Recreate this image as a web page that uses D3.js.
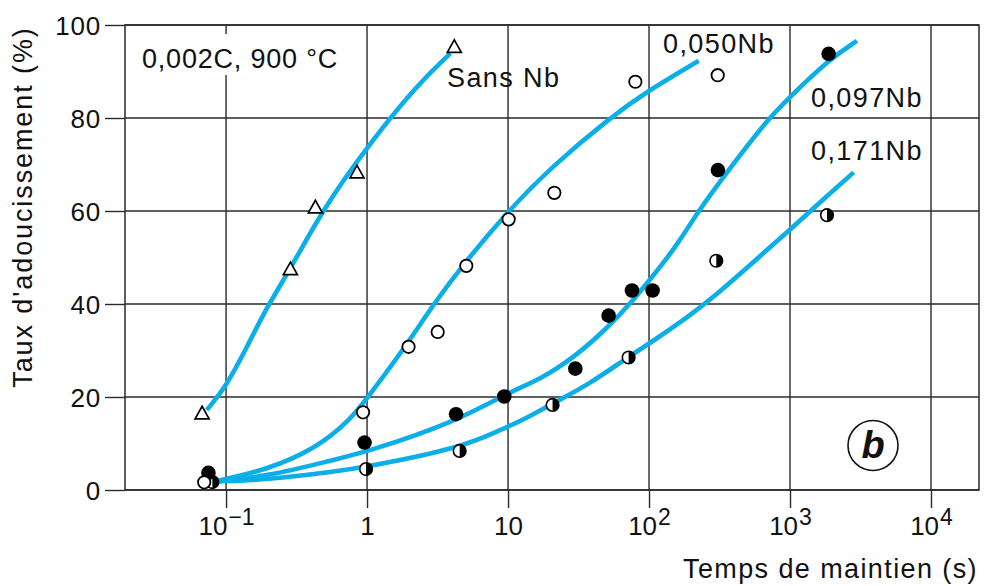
<!DOCTYPE html>
<html>
<head>
<meta charset="utf-8">
<script src="https://cdn.jsdelivr.net/npm/d3@7"></script>
<style>
  body { margin: 0; background: #fff; }
  svg { display: block; }
  text { font-family: "Liberation Sans", Arial, sans-serif; fill: #111; }
</style>
</head>
<body>
<svg id="chart" width="989" height="586"></svg>
<script>
// ---------- data (time in s, softening in %) ----------
const xTickValues = [0.1, 1, 10, 100, 1000, 10000];
const xTickBase   = ["10", "1", "10", "10", "10", "10"];
const xTickExp    = ["\u22121", "", "", "2", "3", "4"];
const yTickValues = [0, 20, 40, 60, 80, 100];

const seriesNames = ["Sans Nb", "0,050Nb", "0,097Nb", "0,171Nb"];

// measured points
const pointsSansNb = [[0.0676,16.5],[0.286,47.5],[0.43,60.8],[0.849,68.3],[4.16,95.3]];
const points050Nb  = [[0.070,1.65],[0.937,16.7],[1.97,30.8],[3.17,34.0],[5.06,48.2],[10.1,58.2],[21.3,63.9],[80,87.8],[307,89.2]];
const points097Nb  = [[0.075,3.7],[0.96,10.2],[4.28,16.3],[9.4,20.1],[30,26.1],[51.7,37.5],[75.7,42.9],[106,42.9],[308,68.8],[1879,93.8]];
const points171Nb  = [[0.080,1.7],[0.984,4.5],[4.54,8.4],[20.7,18.3],[71.7,28.5],[300,49.3],[1829,59.1]];

// fitted curves
const curveSansNb = [[0.073,17.2],[0.1,22.2],[0.141,30.8],[0.195,39.4],[0.286,47.5],[0.48,60.1],[1,73.8],[2.26,87.1],[3.9,93.9]];
const curve050Nb  = [[0.082,1.8],[0.195,4.3],[0.44,9.0],[0.76,15.1],[1,19.7],[1.87,30.8],[2.97,40],[4.72,48.2],[10,60],[20,69.3],[53,80.1],[100,86],[225,92.3]];
const curve097Nb  = [[0.082,1.8],[0.195,2.9],[0.58,6.5],[1,8.2],[4.28,14.7],[10.1,21.0],[17,23.8],[30,28.7],[51.7,35.1],[77.8,40.9],[101,45.2],[150,51.6],[225,60.1],[338,67.4],[687,79.6],[1005,84.6],[1879,92.5],[2985,96.6]];
const curve171Nb  = [[0.082,1.8],[0.195,2.2],[0.58,3.9],[1,5.0],[4.54,9.0],[8.8,12.9],[12.9,15.1],[20.7,18.6],[38.4,22.9],[71.6,28.7],[101,31.5],[196,37.6],[272,40.9],[522,48.4],[993,55.9],[1829,63.2],[2825,68.3]];

const annotation = "0,002C, 900 \u00B0C";
const xTitle = "Temps de maintien (s)";
const yTitle = "Taux d'adoucissement (%)";
const panelLetter = "b";

// ---------- layout ----------
const L = 125, R = 979, T = 25, B = 490;
const curveColor = "#0aaee8";
const gridColor = "#2a2a2a";

const svg = d3.select("#chart");
svg.append("rect").attr("width", 989).attr("height", 586).attr("fill", "#fff");

const x = d3.scaleLog().domain([0.0192, 21900]).range([L, R]);
const y = d3.scaleLinear().domain([0, 100]).range([B, T]);

// grid lines
const grid = svg.append("g");
grid.selectAll("line.v").data(xTickValues).join("line")
  .attr("x1", d => x(d)).attr("x2", d => x(d))
  .attr("y1", T).attr("y2", B)
  .attr("stroke", gridColor).attr("stroke-width", 1.4);
grid.selectAll("line.h").data(yTickValues).join("line")
  .attr("x1", L).attr("x2", R)
  .attr("y1", d => y(d)).attr("y2", d => y(d))
  .attr("stroke", gridColor).attr("stroke-width", 1.4);

// frame
svg.append("rect").attr("x", L).attr("y", T).attr("width", R - L).attr("height", B - T)
  .attr("fill", "none").attr("stroke", gridColor).attr("stroke-width", 1.5);

// y axis
const yAxis = svg.append("g").attr("transform", `translate(${L},0)`)
  .call(d3.axisLeft(y).tickValues(yTickValues).tickSize(20).tickPadding(4).tickFormat(d3.format("d")));
yAxis.select(".domain").remove();
yAxis.selectAll(".tick line").attr("stroke", gridColor).attr("stroke-width", 1.4);
yAxis.selectAll(".tick text").attr("font-size", 26).attr("letter-spacing", 0.8)
  .attr("font-family", "Liberation Sans, Arial, sans-serif").attr("fill", "#111").attr("dy", "0.36em");

// x axis
const xAxis = svg.append("g").attr("transform", `translate(0,${B})`)
  .call(d3.axisBottom(x).tickValues(xTickValues).tickSize(18).tickFormat(""));
xAxis.select(".domain").remove();
xAxis.selectAll(".tick line").attr("stroke", gridColor).attr("stroke-width", 1.4);
xAxis.selectAll(".tick text").remove();
const xl = xAxis.selectAll(".tick").append("text")
  .attr("y", 45).attr("text-anchor", "middle")
  .attr("font-size", 26).attr("fill", "#111");
xl.each(function(d, i) {
  const t = d3.select(this);
  t.append("tspan").text(xTickBase[i]);
  if (xTickExp[i]) t.append("tspan").attr("font-size", 23).attr("dy", -10).attr("dx", 1).text(xTickExp[i]);
});

// annotation with white background
svg.append("rect").attr("x", 138).attr("y", 34).attr("width", 204).attr("height", 41).attr("fill", "#fff");
svg.append("text").attr("x", 142).attr("y", 68).attr("font-size", 27).attr("letter-spacing", 0.8).text(annotation);

// curve labels
const labelPos = [[447, 87], [663, 53], [811, 107], [811, 160]];
svg.selectAll("text.lab").data(seriesNames).join("text")
  .attr("class", "lab")
  .attr("x", (d, i) => labelPos[i][0]).attr("y", (d, i) => labelPos[i][1])
  .attr("font-size", 27).attr("letter-spacing", 1.4).text(d => d);

// titles
svg.append("text").attr("x", 683).attr("y", 578).attr("font-size", 27).attr("letter-spacing", 1.4).text(xTitle);
svg.append("text").attr("transform", "translate(32,207) rotate(-90)").attr("text-anchor", "middle")
  .attr("font-size", 27).attr("letter-spacing", 1.9).text(yTitle);

// curves
const line = d3.line().x(d => x(d[0])).y(d => y(d[1])).curve(d3.curveBasis);
[curveSansNb, curve050Nb, curve097Nb, curve171Nb].forEach(c => {
  svg.append("path").attr("d", line(c)).attr("fill", "none")
    .attr("stroke", curveColor).attr("stroke-width", 4.6).attr("stroke-linecap", "butt");
});

// markers
const mk = svg.append("g");
// half-filled (0,171Nb)
const hg = mk.selectAll("g.half").data(points171Nb).join("g")
  .attr("transform", d => `translate(${x(d[0])},${y(d[1])})`);
hg.append("circle").attr("r", 6.3).attr("fill", "#fff").attr("stroke", "#000").attr("stroke-width", 1.6);
hg.append("path").attr("d", "M0,-6.3A6.3,6.3 0 0 1 0,6.3Z").attr("fill", "#000");
// filled (0,097Nb)
mk.selectAll("circle.full").data(points097Nb).join("circle")
  .attr("cx", d => x(d[0])).attr("cy", d => y(d[1])).attr("r", 7.3).attr("fill", "#000");
// open (0,050Nb)
mk.selectAll("circle.open").data(points050Nb).join("circle")
  .attr("cx", d => x(d[0])).attr("cy", d => y(d[1])).attr("r", 6.2)
  .attr("fill", "#fff").attr("stroke", "#000").attr("stroke-width", 1.8);
// triangles (Sans Nb)
mk.selectAll("path.tri").data(pointsSansNb).join("path")
  .attr("transform", d => `translate(${x(d[0])},${y(d[1])})`)
  .attr("d", "M0,-7L7,5.5L-7,5.5Z")
  .attr("fill", "#fff").attr("stroke", "#000").attr("stroke-width", 1.7).attr("stroke-linejoin", "miter");

// panel letter
svg.append("circle").attr("cx", 873).attr("cy", 445.5).attr("r", 25)
  .attr("fill", "#fff").attr("stroke", "#111").attr("stroke-width", 1.6);
svg.append("text").attr("x", 873).attr("y", 458).attr("text-anchor", "middle")
  .attr("font-size", 38).attr("font-weight", "bold").attr("font-style", "italic").text(panelLetter);
</script>
</body>
</html>
